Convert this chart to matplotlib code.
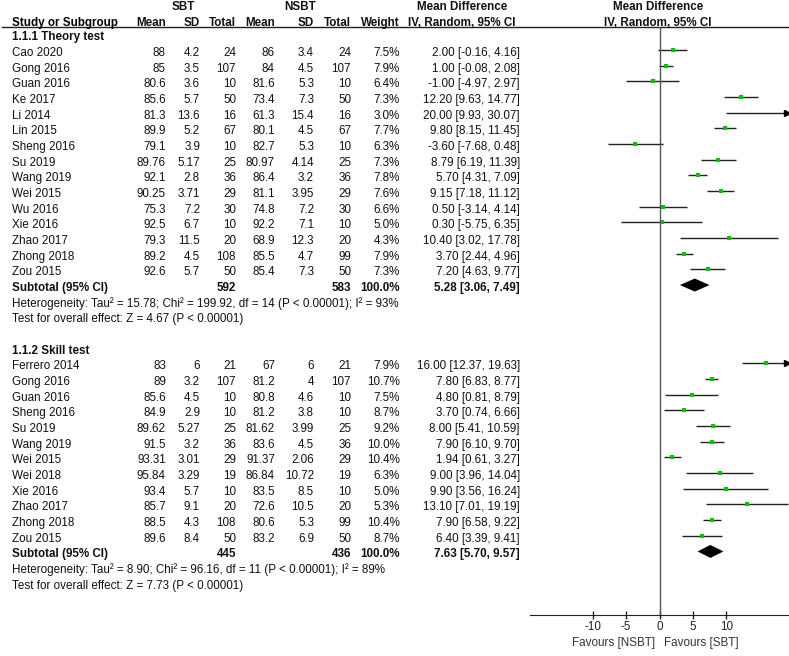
import numpy as np
import matplotlib.pyplot as plt

# ============== Data ==============
theory_study = ["Cao 2020", "Gong 2016", "Guan 2016", "Ke 2017", "Li 2014", "Lin 2015",
                "Sheng 2016", "Su 2019", "Wang 2019", "Wei 2015", "Wu 2016", "Xie 2016",
                "Zhao 2017", "Zhong 2018", "Zou 2015"]
theory_sbt_mean = ["88", "85", "80.6", "85.6", "81.3", "89.9", "79.1", "89.76", "92.1",
                   "90.25", "75.3", "92.5", "79.3", "89.2", "92.6"]
theory_sbt_sd = ["4.2", "3.5", "3.6", "5.7", "13.6", "5.2", "3.9", "5.17", "2.8", "3.71",
                 "7.2", "6.7", "11.5", "4.5", "5.7"]
theory_sbt_n = [24, 107, 10, 50, 16, 67, 10, 25, 36, 29, 30, 10, 20, 108, 50]
theory_nsbt_mean = ["86", "84", "81.6", "73.4", "61.3", "80.1", "82.7", "80.97", "86.4",
                    "81.1", "74.8", "92.2", "68.9", "85.5", "85.4"]
theory_nsbt_sd = ["3.4", "4.5", "5.3", "7.3", "15.4", "4.5", "5.3", "4.14", "3.2", "3.95",
                  "7.2", "7.1", "12.3", "4.7", "7.3"]
theory_nsbt_n = [24, 107, 10, 50, 16, 67, 10, 25, 36, 29, 30, 10, 20, 99, 50]
theory_weight = [7.5, 7.9, 6.4, 7.3, 3.0, 7.7, 6.3, 7.3, 7.8, 7.6, 6.6, 5.0, 4.3, 7.9, 7.3]
theory_md = [2.00, 1.00, -1.00, 12.20, 20.00, 9.80, -3.60, 8.79, 5.70, 9.15, 0.50, 0.30,
             10.40, 3.70, 7.20]
theory_lo = [-0.16, -0.08, -4.97, 9.63, 9.93, 8.15, -7.68, 6.19, 4.31, 7.18, -3.14, -5.75,
             3.02, 2.44, 4.63]
theory_hi = [4.16, 2.08, 2.97, 14.77, 30.07, 11.45, 0.48, 11.39, 7.09, 11.12, 4.14, 6.35,
             17.78, 4.96, 9.77]
theory_total = (592, 583, 5.28, 3.06, 7.49)
theory_het = "Heterogeneity: Tau² = 15.78; Chi² = 199.92, df = 14 (P < 0.00001); I² = 93%"
theory_test = "Test for overall effect: Z = 4.67 (P < 0.00001)"

skill_study = ["Ferrero 2014", "Gong 2016", "Guan 2016", "Sheng 2016", "Su 2019", "Wang 2019",
               "Wei 2015", "Wei 2018", "Xie 2016", "Zhao 2017", "Zhong 2018", "Zou 2015"]
skill_sbt_mean = ["83", "89", "85.6", "84.9", "89.62", "91.5", "93.31", "95.84", "93.4",
                  "85.7", "88.5", "89.6"]
skill_sbt_sd = ["6", "3.2", "4.5", "2.9", "5.27", "3.2", "3.01", "3.29", "5.7", "9.1",
                "4.3", "8.4"]
skill_sbt_n = [21, 107, 10, 10, 25, 36, 29, 19, 10, 20, 108, 50]
skill_nsbt_mean = ["67", "81.2", "80.8", "81.2", "81.62", "83.6", "91.37", "86.84", "83.5",
                   "72.6", "80.6", "83.2"]
skill_nsbt_sd = ["6", "4", "4.6", "3.8", "3.99", "4.5", "2.06", "10.72", "8.5", "10.5",
                 "5.3", "6.9"]
skill_nsbt_n = [21, 107, 10, 10, 25, 36, 29, 19, 10, 20, 99, 50]
skill_weight = [7.9, 10.7, 7.5, 8.7, 9.2, 10.0, 10.4, 6.3, 5.0, 5.3, 10.4, 8.7]
skill_md = [16.00, 7.80, 4.80, 3.70, 8.00, 7.90, 1.94, 9.00, 9.90, 13.10, 7.90, 6.40]
skill_lo = [12.37, 6.83, 0.81, 0.74, 5.41, 6.10, 0.61, 3.96, 3.56, 7.01, 6.58, 3.39]
skill_hi = [19.63, 8.77, 8.79, 6.66, 10.59, 9.70, 3.27, 14.04, 16.24, 19.19, 9.22, 9.41]
skill_total = (445, 436, 7.63, 5.70, 9.57)
skill_het = "Heterogeneity: Tau² = 8.90; Chi² = 96.16, df = 11 (P < 0.00001); I² = 89%"
skill_test = "Test for overall effect: Z = 7.73 (P < 0.00001)"

x_ticks = [-10, -5, 0, 5, 10]
# ==================================

FS = 8.4
plt.rcParams['font.family'] = ['Liberation Sans', 'DejaVu Sans']
plt.rcParams['font.size'] = FS

W, H = 789, 656
ROW0 = 50.0      # pixel y of first study row
ROW_H = 15.67    # pixel height of a row
XLIM = (-19.4, 19.4)

# column right edges (pixels)
COL_NAME = 12
COL_SBT_MEAN, COL_SBT_SD, COL_SBT_N = 166, 200, 236
COL_NSBT_MEAN, COL_NSBT_SD, COL_NSBT_N = 275, 314, 351
COL_WEIGHT, COL_CI = 400, 520

fig = plt.figure(figsize=(W / 100, H / 100), dpi=100)
tx = fig.add_axes([0, 0, 1, 1])
tx.set_xlim(0, W)
tx.set_ylim(H, 0)
tx.axis('off')

ax_top, ax_bot, ax_left = 27, 615, 530
ax = fig.add_axes([ax_left / W, (H - ax_bot) / H, (W - ax_left) / W, (ax_bot - ax_top) / H])
ax.set_xlim(*XLIM)
ax.set_ylim(ax_bot, ax_top)
ax.patch.set_alpha(0)


def row_y(i):
    return ROW0 + i * ROW_H


def txt(x, i, s, ha='right', bold=False):
    tx.text(x, row_y(i) + 6, s, ha=ha, va='baseline',
            fontweight='bold' if bold else 'normal', color='#111111')


def draw_group(start, title, study, m1, s1, n1, m2, s2, n2, w, md, lo, hi, total, het, test):
    txt(COL_NAME, start - 1, title, ha='left', bold=True)
    for k in range(len(study)):
        i = start + k
        txt(COL_NAME, i, study[k], ha='left')
        txt(COL_SBT_MEAN, i, m1[k])
        txt(COL_SBT_SD, i, s1[k])
        txt(COL_SBT_N, i, str(n1[k]))
        txt(COL_NSBT_MEAN, i, m2[k])
        txt(COL_NSBT_SD, i, s2[k])
        txt(COL_NSBT_N, i, str(n2[k]))
        txt(COL_WEIGHT, i, f"{w[k]:.1f}%")
        txt(COL_CI, i, f"{md[k]:.2f} [{lo[k]:.2f}, {hi[k]:.2f}]")

        # CI line, with arrow if cut off by axis
        y = row_y(i)
        x0 = max(lo[k], XLIM[0])
        x1 = min(hi[k], XLIM[1])
        ax.plot([x0, x1], [y, y], color='#222222', lw=1.0, solid_capstyle='butt')
        if hi[k] > XLIM[1]:
            ax.plot([XLIM[1] - 0.3], [y], marker='>', ms=5, color='black', clip_on=False)
        ax.plot([md[k]], [y], marker='s', ms=2.2 + 0.12 * w[k], color='#00c800', mew=0)

    i = start + len(study)
    txt(COL_NAME, i, "Subtotal (95% CI)", ha='left', bold=True)
    txt(COL_SBT_N, i, str(total[0]), bold=True)
    txt(COL_NSBT_N, i, str(total[1]), bold=True)
    txt(COL_WEIGHT, i, "100.0%", bold=True)
    txt(COL_CI, i, f"{total[2]:.2f} [{total[3]:.2f}, {total[4]:.2f}]", bold=True)
    y = row_y(i)
    ax.fill([total[3], total[2], total[4], total[2]], [y, y - 6.5, y, y + 6.5],
            color='black', lw=0)
    txt(COL_NAME, i + 1, het, ha='left')
    txt(COL_NAME, i + 2, test, ha='left')


# header
for x, s in [(183, "SBT"), (300, "NSBT"), (462, "Mean Difference"), (658, "Mean Difference")]:
    tx.text(x, 10, s, ha='center', va='baseline', fontweight='bold', color='#111111')
tx.text(COL_NAME, 26, "Study or Subgroup", ha='left', va='baseline', fontweight='bold')
for x, s in [(COL_SBT_MEAN, "Mean"), (COL_SBT_SD, "SD"), (COL_SBT_N, "Total"),
             (COL_NSBT_MEAN, "Mean"), (COL_NSBT_SD, "SD"), (COL_NSBT_N, "Total"),
             (COL_WEIGHT, "Weight")]:
    tx.text(x, 26, s, ha='right', va='baseline', fontweight='bold', color='#111111')
for x in [462, 658]:
    tx.text(x, 26, "IV, Random, 95% CI", ha='center', va='baseline', fontweight='bold',
            color='#111111')
tx.plot([2, W], [26.7, 26.7], color='#222222', lw=1.0)

draw_group(0, "1.1.1 Theory test", theory_study, theory_sbt_mean, theory_sbt_sd, theory_sbt_n,
           theory_nsbt_mean, theory_nsbt_sd, theory_nsbt_n, theory_weight,
           theory_md, theory_lo, theory_hi, theory_total, theory_het, theory_test)
draw_group(20, "1.1.2 Skill test", skill_study, skill_sbt_mean, skill_sbt_sd, skill_sbt_n,
           skill_nsbt_mean, skill_nsbt_sd, skill_nsbt_n, skill_weight,
           skill_md, skill_lo, skill_hi, skill_total, skill_het, skill_test)

# forest axis
ax.axvline(0, color='#555555', lw=1.0)
for side in ['left', 'top', 'right']:
    ax.spines[side].set_visible(False)
ax.spines['bottom'].set_color('#222222')
ax.set_yticks([])
ax.set_xticks(x_ticks)
ax.set_xticklabels([str(t) for t in x_ticks])
ax.tick_params(axis='x', direction='inout', length=6, width=1.0, pad=1, labelsize=FS,
               colors='#222222')
tx.text(655, 646, "Favours [NSBT]", ha='right', va='baseline', color='#333333')
tx.text(664, 646, "Favours [SBT]", ha='left', va='baseline', color='#333333')

plt.savefig("out.png", dpi=100)
plt.close()
